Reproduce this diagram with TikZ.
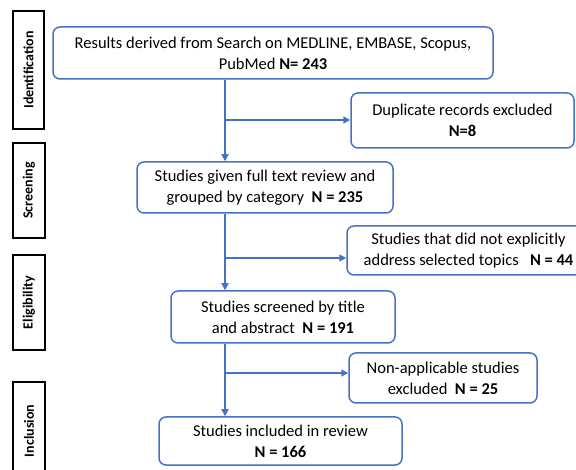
\documentclass[tikz,border=0pt]{standalone}
\usepackage{fontspec}
\setmainfont{Carlito}
\usetikzlibrary{arrows.meta}
\definecolor{flowblue}{HTML}{4472C4}
\begin{document}
\begin{tikzpicture}[x=1pt,y=-1pt,
  flowbox/.style={draw=flowblue,line width=1.5pt,rounded corners=7pt,fill=white,
    align=center,inner sep=0pt,font=\fontsize{16.5}{21}\selectfont},
  stagebox/.style={draw=black,line width=1.6pt,inner sep=0pt,
    font=\fontsize{14}{16}\selectfont\bfseries,rotate=90},
  arr/.style={draw=flowblue,line width=1.5pt,-{Triangle[length=7pt,width=7pt]}}]
\useasboundingbox (0,0) rectangle (576,470);
% stage labels
\node[stagebox,minimum width=118pt,minimum height=31pt] (id) at (28.5,70) {Identification};
\node[stagebox,minimum width=95pt,minimum height=32pt] (sc) at (29,190.5) {Screening};
\node[stagebox,minimum width=95pt,minimum height=32pt] (el) at (29,302.5) {Eligibility};
\node[stagebox,minimum width=98pt,minimum height=32pt] (in) at (29,431) {Inclusion};
% main boxes
\node[flowbox,minimum width=440pt,minimum height=52pt] (b1) at (273,53)
  {Results derived from Search on MEDLINE, EMBASE, Scopus,\\PubMed \textbf{N= 243}};
\node[flowbox,minimum width=223pt,minimum height=55pt] (dup) at (462.5,120.5)
  {Duplicate records excluded\\\textbf{N=8}};
\node[flowbox,minimum width=256pt,minimum height=51pt] (b2) at (265,187.5)
  {Studies given full text review and\\grouped by category\ \ \textbf{N = 235}};
\node[flowbox,minimum width=243pt,minimum height=49pt] (nd) at (468.5,250.5)
  {Studies that did not explicitly\\address selected topics\ \ \ \textbf{N = 44}};
\node[flowbox,minimum width=224pt,minimum height=52pt] (b3) at (283,317)
  {Studies screened by title\\and abstract\ \ \textbf{N = 191}};
\node[flowbox,minimum width=188pt,minimum height=50pt] (na) at (443,378)
  {Non-applicable studies\\excluded\ \ \textbf{N = 25}};
\node[flowbox,minimum width=243pt,minimum height=48pt] (b5) at (280.5,441)
  {Studies included in review\\\textbf{N = 166}};
% spine
\coordinate (sp) at (225,0);
\coordinate (br1) at (225,120);
\coordinate (br2) at (225,258);
\coordinate (br3) at (225,373);
\draw[arr] (b1.south -| sp) -- (b2.north -| sp);
\draw[arr] (br1) -- (br1 -| dup.west);
\draw[arr] (b2.south -| sp) -- (b3.north -| sp);
\draw[arr] (br2) -- (br2 -| nd.west);
\draw[arr] (b3.south -| sp) -- (b5.north -| sp);
\draw[arr] (br3) -- (br3 -| na.west);
\end{tikzpicture}
\end{document}
